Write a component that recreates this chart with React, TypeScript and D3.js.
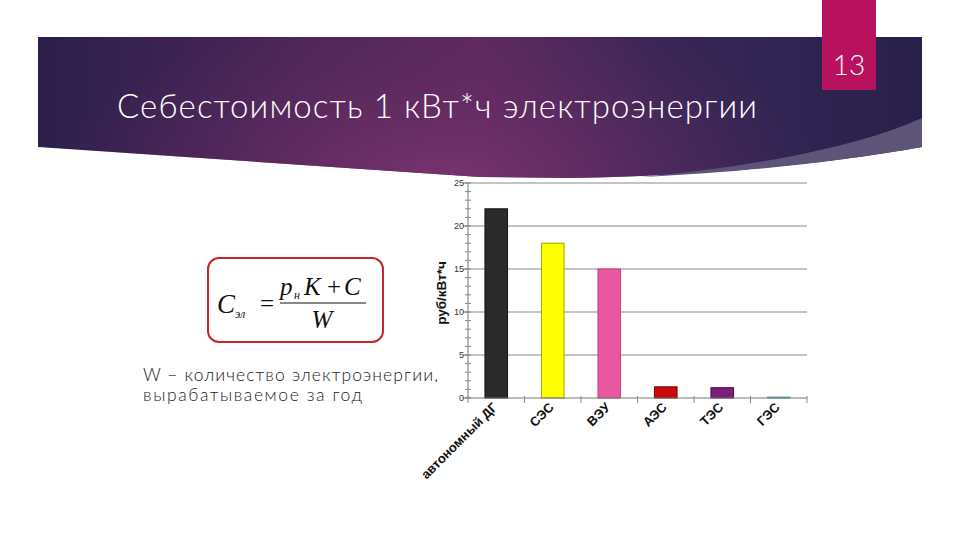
import React from "react";
import * as d3 from "d3";

const categories = ["автономный ДГ", "СЭС", "ВЭУ", "АЭС", "ТЭС", "ГЭС"];
const values = [22, 18, 15, 1.3, 1.2, 0.1];
const barColors = ["#2a2a2a", "#ffff00", "#ea569f", "#c80a0a", "#7c1f78", "#6cbcbc"];
const barStrokes = ["#111111", "#a6a600", "#c2467f", "#7a0000", "#4a0f48", "#4a9a9a"];
const yTicks = [0, 5, 10, 15, 20, 25];
const minorTicks = d3.range(0, 26, 1);

const titleText = "Себестоимость 1 кВт*ч электроэнергии";
const slideNumber = "13";
const yAxisLabel = "руб/кВт*ч";
const noteLines = ["W – количество электроэнергии,", "вырабатываемое за год"];

export default function App() {
  const left = 468, right = 807, top = 183, bottom = 398;
  const x = d3.scaleBand<string>().domain(categories).range([left, right]).paddingInner(0.6).paddingOuter(0.3);
  const y = d3.scaleLinear().domain([0, 25]).range([bottom, top]);
  const step = x.step();
  const boundaries = d3.range(0, categories.length + 1).map((i) => left + i * step);
  const font = "Lato, 'Open Sans', 'DejaVu Sans', sans-serif";
  const axisFont = "'Liberation Sans', Arial, sans-serif";
  const serif = "'Liberation Serif', 'DejaVu Serif', serif";

  return (
    <svg width={960} height={540} viewBox="0 0 960 540" style={{ position: "absolute", left: 0, top: 0, background: "#ffffff" }}>
      <defs>
        <linearGradient id="band" x1="0" y1="0" x2="1" y2="0">
          <stop offset="0" stopColor="#2b1f4b" />
          <stop offset="0.3" stopColor="#4d2658" />
          <stop offset="0.5" stopColor="#5e2a5f" />
          <stop offset="0.7" stopColor="#3a2656" />
          <stop offset="0.85" stopColor="#2f2452" />
          <stop offset="1" stopColor="#28204a" />
        </linearGradient>
        <radialGradient id="glow" cx="440" cy="185" r="300" gradientUnits="userSpaceOnUse" gradientTransform="translate(440 185) scale(1.3 0.6) translate(-440 -185)">
          <stop offset="0" stopColor="#7a3470" stopOpacity="0.95" />
          <stop offset="0.5" stopColor="#6a2d66" stopOpacity="0.5" />
          <stop offset="1" stopColor="#5a2a60" stopOpacity="0" />
        </radialGradient>
      </defs>

      {/* header band */}
      <path d="M38,37 H922 V147 C850,160 720,176 570,178 L480,177 L38,147 Z" fill="url(#band)" />
      <path d="M38,37 H922 V147 C850,160 720,176 570,178 L480,177 L38,147 Z" fill="url(#glow)" />
      <path d="M922,118 C860,146 760,166 640,177 C760,172 860,158 922,147 Z" fill="#5d5478" />

      {/* slide number box */}
      <rect x={822} y={0} width={54} height={90} fill="#b8125f" />
      <text x={849} y={75} textAnchor="middle" fill="#ffffff" fontFamily={font} fontWeight={300} fontSize={28}>{slideNumber}</text>

      {/* title */}
      <text x={117} y={118} fill="#ffffff" fontFamily={font} fontWeight={300} fontSize={33} textLength={640} lengthAdjust="spacing">{titleText}</text>

      {/* gridlines */}
      {yTicks.filter((t) => t > 0).map((t) => (
        <line key={"g" + t} x1={left} x2={right} y1={y(t)} y2={y(t)} stroke="#8a8a8a" strokeWidth={1} />
      ))}

      {/* bars */}
      {categories.map((c, i) => (
        <rect key={c} x={x(c)!} y={y(values[i])} width={x.bandwidth()} height={bottom - y(values[i])}
          fill={barColors[i]} stroke={barStrokes[i]} strokeWidth={1} />
      ))}

      {/* y axis */}
      <line x1={left} x2={left} y1={top} y2={bottom} stroke="#777" strokeWidth={1} />
      {minorTicks.map((t) => (
        <line key={"m" + t} x1={left - 3} x2={left + 3} y1={y(t)} y2={y(t)} stroke="#888" strokeWidth={1} />
      ))}
      {yTicks.map((t) => (
        <g key={"t" + t}>
          <line x1={left - 5} x2={left} y1={y(t)} y2={y(t)} stroke="#777" strokeWidth={1} />
          <text x={left - 4} y={y(t) + 3} textAnchor="end" fontFamily={axisFont} fontSize={9} fill="#333">{t}</text>
        </g>
      ))}
      <text transform={`translate(446, 293) rotate(-90)`} textAnchor="middle" fontFamily={axisFont} fontWeight="bold" fontSize={13.5} fill="#111">{yAxisLabel}</text>

      {/* x axis */}
      <line x1={left} x2={right} y1={bottom} y2={bottom} stroke="#777" strokeWidth={1} />
      {boundaries.map((b, i) => (
        <line key={"b" + i} x1={b} x2={b} y1={bottom - 2} y2={bottom + 5} stroke="#888" strokeWidth={1} />
      ))}
      {categories.map((c) => (
        <text key={"l" + c} transform={`translate(${x(c)! + x.bandwidth() / 2 + 2}, ${bottom + 10}) rotate(-45)`}
          textAnchor="end" fontFamily={axisFont} fontWeight="bold" fontSize={13} fill="#111">{c}</text>
      ))}

      {/* formula box */}
      <rect x={208} y={258} width={175} height={84} rx={11} ry={11} fill="#ffffff" stroke="#c4262e" strokeWidth={2} />
      <g fontFamily={serif} fill="#111">
        <text x={217} y={313} fontStyle="italic" fontSize={27}>C</text>
        <text x={235} y={318} fontStyle="italic" fontSize={12}>эл</text>
        <text x={260} y={312} fontSize={25}>=</text>
        <text x={280} y={295} fontStyle="italic" fontSize={25}>p</text>
        <text x={294} y={299} fontStyle="italic" fontSize={12}>н</text>
        <text x={304} y={295} fontStyle="italic" fontSize={25}>K</text>
        <text x={327} y={295} fontSize={25}>+</text>
        <text x={344} y={295} fontStyle="italic" fontSize={25}>C</text>
        <line x1={280} x2={366} y1={303} y2={303} stroke="#111" strokeWidth={1.2} />
        <text x={322} y={328} textAnchor="middle" fontStyle="italic" fontSize={25}>W</text>
      </g>

      {/* note */}
      {noteLines.map((l, i) => (
        <text key={"n" + i} x={143} y={381 + i * 20} fontFamily={font} fontWeight={300} fontSize={17.5} fill="#222"
          textLength={i === 0 ? 295 : 219} lengthAdjust="spacing">{l}</text>
      ))}
    </svg>
  );
}
